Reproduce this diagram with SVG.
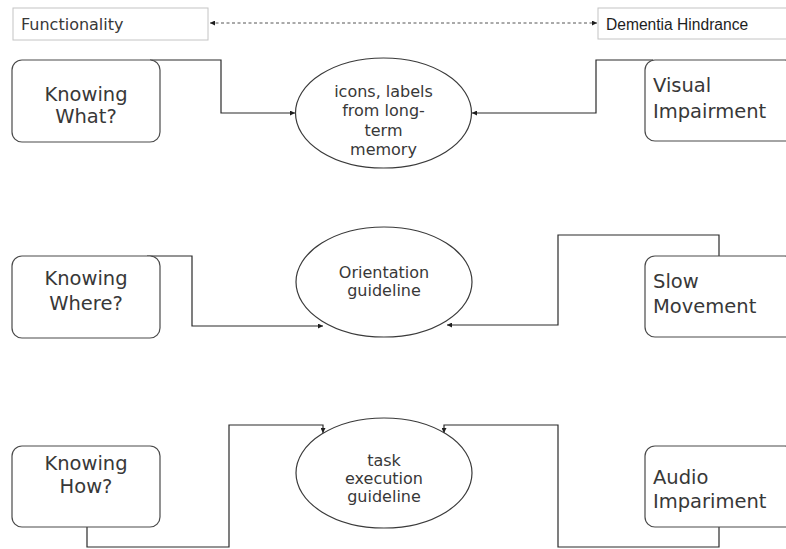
<svg xmlns="http://www.w3.org/2000/svg" width="786" height="549" viewBox="0 0 786 549">
  <style>
    .bg { fill: #ffffff; }
    .hdr { fill: #ffffff; stroke: #c4c4c4; stroke-width: 1; }
    .box { fill: #ffffff; stroke: #4a4a4a; stroke-width: 1.2; }
    .oval { fill: #ffffff; stroke: #3a3a3a; stroke-width: 1.2; }
    .t { font-family: "DejaVu Sans", "Liberation Sans", sans-serif; fill: #383838; }
    .big { font-size: 19.5px; }
    .mid { font-size: 16px; }
    .c { text-anchor: middle; }
    .hind { font-family: "Liberation Sans", Arial, sans-serif; font-size: 15.6px; fill: #1e1e1e; }
    .wire { fill: none; stroke: #2a2a2a; stroke-width: 1.2; }
    .dash { fill: none; stroke: #555555; stroke-width: 1; stroke-dasharray: 3 2.5; }
  </style>
  <defs>
    <marker id="tip" viewBox="0 0 10 10" refX="10" refY="5" markerWidth="5" markerHeight="5" markerUnits="userSpaceOnUse" orient="auto-start-reverse">
      <path d="M0,0 L10,5 L0,10 z" fill="#1e1e1e"/>
    </marker>
  </defs>

  <rect class="bg" x="0" y="0" width="786" height="549"/>

  <!-- header labels -->
  <g id="functionality">
    <rect class="hdr" x="13" y="8" width="195" height="32"/>
    <text class="t mid" x="21" y="30">Functionality</text>
  </g>
  <g id="dementia-hindrance">
    <rect class="hdr" x="598" y="8" width="200" height="31"/>
    <text class="hind" x="606" y="30">Dementia Hindrance</text>
  </g>

  <!-- connectors -->
  <g id="connectors">
    <path class="dash" d="M210,23 L597,23" marker-start="url(#tip)" marker-end="url(#tip)"/>
    <path class="wire" d="M150,60 L221,60 L221,113 L295,113" marker-end="url(#tip)"/>
    <path class="wire" d="M653,60 L596,60 L596,113 L472,113" marker-end="url(#tip)"/>
    <path class="wire" d="M147,256 L192,256 L192,326 L323,326" marker-end="url(#tip)"/>
    <path class="wire" d="M719,256 L719,235 L558,235 L558,325 L447,325" marker-end="url(#tip)"/>
    <path class="wire" d="M87,527 L87,547 L229,547 L229,425 L323,425 L323,433" marker-end="url(#tip)"/>
    <path class="wire" d="M719,527 L719,547 L558,547 L558,425 L444,425 L444,433" marker-end="url(#tip)"/>
  </g>

  <!-- left column -->
  <g id="knowing-what">
    <rect class="box" x="12" y="60" width="148" height="82" rx="10"/>
    <text class="t big c" x="86" y="101">Knowing</text>
    <text class="t big c" x="86" y="123">What?</text>
  </g>
  <g id="knowing-where">
    <rect class="box" x="12" y="256" width="148" height="82" rx="10"/>
    <text class="t big c" x="86" y="285">Knowing</text>
    <text class="t big c" x="86" y="310">Where?</text>
  </g>
  <g id="knowing-how">
    <rect class="box" x="12" y="446" width="148" height="81" rx="10"/>
    <text class="t big c" x="86" y="470">Knowing</text>
    <text class="t big c" x="86" y="493">How?</text>
  </g>

  <!-- centre column -->
  <g id="icons-labels">
    <ellipse class="oval" cx="383.5" cy="113" rx="88" ry="55"/>
    <text class="t mid c" x="383.5" y="97">icons, labels</text>
    <text class="t mid c" x="383.5" y="116">from long-</text>
    <text class="t mid c" x="383.5" y="136">term</text>
    <text class="t mid c" x="383.5" y="155">memory</text>
  </g>
  <g id="orientation">
    <ellipse class="oval" cx="384" cy="282" rx="88" ry="55"/>
    <text class="t mid c" x="384" y="278">Orientation</text>
    <text class="t mid c" x="384" y="296">guideline</text>
  </g>
  <g id="task-execution">
    <ellipse class="oval" cx="384" cy="473" rx="88" ry="55"/>
    <text class="t mid c" x="384" y="466">task</text>
    <text class="t mid c" x="384" y="484">execution</text>
    <text class="t mid c" x="384" y="502">guideline</text>
  </g>

  <!-- right column -->
  <g id="visual-impairment">
    <rect class="box" x="645" y="60" width="150" height="81" rx="10"/>
    <text class="t big" x="653" y="92">Visual</text>
    <text class="t big" x="653" y="118">Impairment</text>
  </g>
  <g id="slow-movement">
    <rect class="box" x="645" y="256" width="150" height="81" rx="10"/>
    <text class="t big" x="653" y="288">Slow</text>
    <text class="t big" x="653" y="313">Movement</text>
  </g>
  <g id="audio-impairment">
    <rect class="box" x="645" y="446" width="150" height="81" rx="10"/>
    <text class="t big" x="653" y="484">Audio</text>
    <text class="t big" x="653" y="508">Impariment</text>
  </g>
</svg>
